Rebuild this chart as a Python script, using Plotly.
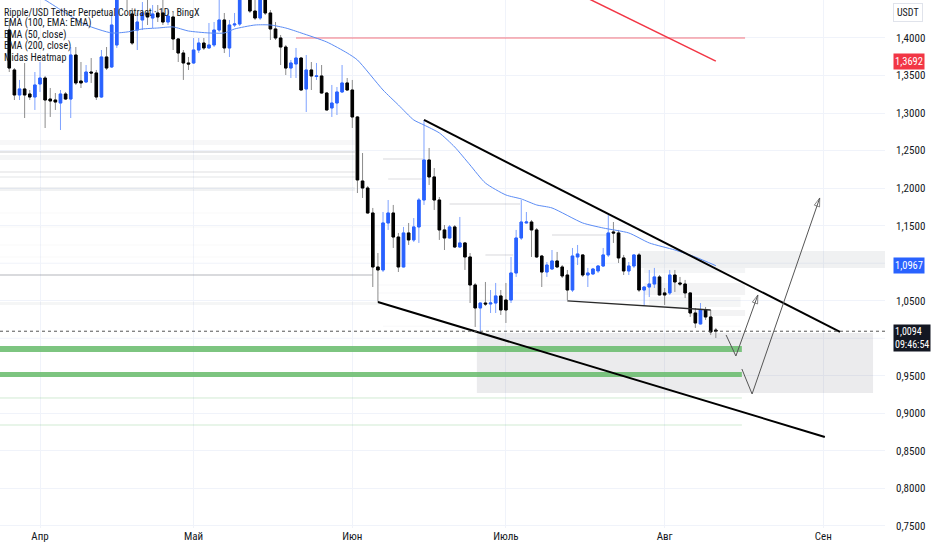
import pandas as pd
import plotly.graph_objects as go

# daily candles, XRP/USDT perp (BingX)
first_day = "2024-03-26"

opens = [1.4106, 1.3574, 1.3241, 1.3321, 1.3254, 1.3214, 1.3387, 1.3467, 1.3187, 1.3174,
         1.3134, 1.3254, 1.3187, 1.3773, 1.3427, 1.3414, 1.3547, 1.3534, 1.3214, 1.3747,
         1.3614, 1.3907, 1.4573, 1.4906, 1.4320, 1.4106, 1.4240, 1.4333, 1.4266, 1.4333,
         1.4333, 1.4213, 1.4280, 1.3987, 1.3800, 1.3667, 1.3667, 1.3840, 1.3933, 1.3867,
         1.3907, 1.4106, 1.4240, 1.3867, 1.4173, 1.4186, 1.4706, 1.4533, 1.4359, 1.4266,
         1.4573, 1.4333, 1.4120, 1.4000, 1.3880, 1.3600, 1.3654, 1.3733, 1.3321, 1.3574,
         1.3487, 1.3494, 1.3267, 1.3068, 1.3134, 1.3281, 1.3401, 1.3307, 1.2948, 1.2095,
         1.2002, 1.1669, 1.0950, 1.0910, 1.1536, 1.1669, 1.1349, 1.0950, 1.1403, 1.1310,
         1.1483, 1.1842, 1.2375, 1.2149, 1.1842, 1.1443, 1.1336, 1.1483, 1.1216, 1.1270,
         1.1083, 1.0710, 1.0404, 1.0470, 1.0457, 1.0470, 1.0564, 1.0510, 1.0510, 1.0870,
         1.1336, 1.1536, 1.1549, 1.1443, 1.1096, 1.0883, 1.0923, 1.1030, 1.0950, 1.0843,
         1.0643, 1.1083, 1.1110, 1.0843, 1.0857, 1.0897, 1.0963, 1.1110, 1.1416, 1.1403,
         1.1070, 1.0897, 1.0963, 1.1110, 1.0643, 1.0683, 1.0723, 1.0817, 1.0604, 1.0604,
         1.0843, 1.0737, 1.0723, 1.0604, 1.0337, 1.0191, 1.0377, 1.0284, 1.0110]
highs = [1.4240, 1.3600, 1.3441, 1.3667, 1.3307, 1.3547, 1.3680, 1.3494, 1.3334, 1.3267,
         1.3307, 1.3281, 1.3880, 1.3880, 1.3680, 1.3640, 1.3733, 1.3574, 1.3840, 1.3880,
         1.4333, 1.4706, 1.5039, 1.4972, 1.4399, 1.4333, 1.4479, 1.4506, 1.4439, 1.4439,
         1.4506, 1.4373, 1.4346, 1.4000, 1.3840, 1.3747, 1.4000, 1.4000, 1.4000, 1.4200,
         1.4213, 1.4506, 1.4333, 1.4240, 1.4333, 1.4772, 1.4839, 1.4639, 1.4506, 1.4706,
         1.4666, 1.4373, 1.4213, 1.4040, 1.3907, 1.3707, 1.3867, 1.3747, 1.3773, 1.3680,
         1.3667, 1.3640, 1.3281, 1.3374, 1.3347, 1.3640, 1.3467, 1.3441, 1.2961, 1.2468,
         1.2029, 1.1736, 1.1136, 1.1682, 1.1842, 1.1776, 1.1403, 1.1483, 1.1536, 1.1602,
         1.1869, 1.2908, 1.2535, 1.2268, 1.1882, 1.1509, 1.1509, 1.1509, 1.1616, 1.1283,
         1.1136, 1.0737, 1.0475, 1.0750, 1.0643, 1.0737, 1.0643, 1.0737, 1.1083, 1.1443,
         1.1842, 1.1682, 1.1576, 1.1469, 1.1110, 1.1016, 1.1176, 1.1150, 1.0976, 1.0910,
         1.1203, 1.1243, 1.1115, 1.0937, 1.0937, 1.0976, 1.1203, 1.1642, 1.1549, 1.1443,
         1.1110, 1.1016, 1.1115, 1.1136, 1.0688, 1.0910, 1.0937, 1.0843, 1.0670, 1.0910,
         1.0910, 1.0817, 1.0777, 1.0610, 1.0404, 1.0470, 1.0417, 1.0377, 1.0138]
lows = [1.3547, 1.3174, 1.3174, 1.2934, 1.3174, 1.3041, 1.3281, 1.2801, 1.2948, 1.3041,
        1.2774, 1.3174, 1.2934, 1.3374, 1.3334, 1.3401, 1.3401, 1.3174, 1.3201, 1.3574,
        1.3600, 1.3867, 1.4533, 1.4373, 1.3907, 1.3840, 1.4106, 1.4173, 1.4133, 1.4213,
        1.4173, 1.4173, 1.3840, 1.3680, 1.3441, 1.3574, 1.3654, 1.3800, 1.3840, 1.3860,
        1.3880, 1.4080, 1.3800, 1.3747, 1.4146, 1.4160, 1.4506, 1.4333, 1.4240, 1.4240,
        1.4306, 1.3973, 1.3973, 1.3640, 1.3507, 1.3467, 1.3467, 1.3300, 1.3014, 1.3307,
        1.3441, 1.3260, 1.3035, 1.2948, 1.2974, 1.3267, 1.3300, 1.2801, 1.1935, 1.1869,
        1.1660, 1.0683, 1.0484, 1.0883, 1.1443, 1.1203, 1.0883, 1.0945, 1.1243, 1.1283,
        1.1270, 1.1776, 1.2042, 1.1709, 1.1310, 1.1176, 1.1330, 1.1203, 1.1203, 1.0910,
        1.0470, 1.0151, 1.0084, 1.0430, 1.0337, 1.0337, 1.0311, 1.0204, 1.0470, 1.0817,
        1.1310, 1.1530, 1.1083, 1.1070, 1.0683, 1.0817, 1.0910, 1.0937, 1.0803, 1.0510,
        1.0617, 1.0976, 1.0817, 1.0683, 1.0843, 1.0870, 1.0950, 1.1083, 1.1270, 1.1003,
        1.0843, 1.0843, 1.0937, 1.0617, 1.0430, 1.0550, 1.0670, 1.0570, 1.0444, 1.0577,
        1.0617, 1.0697, 1.0537, 1.0284, 1.0138, 1.0185, 1.0244, 1.0044, 1.0004]
closes = [1.3600, 1.3241, 1.3321, 1.3241, 1.3214, 1.3374, 1.3467, 1.3174, 1.3161, 1.3147,
          1.3254, 1.3187, 1.3773, 1.3401, 1.3401, 1.3547, 1.3534, 1.3214, 1.3747, 1.3600,
          1.4173, 1.4573, 1.4906, 1.4546, 1.3933, 1.4213, 1.4333, 1.4280, 1.4320, 1.4280,
          1.4213, 1.4293, 1.3987, 1.3800, 1.3667, 1.3654, 1.3840, 1.3933, 1.3867, 1.3907,
          1.4106, 1.4240, 1.3867, 1.4173, 1.4186, 1.4639, 1.4546, 1.4359, 1.4266, 1.4573,
          1.4333, 1.4120, 1.4000, 1.3880, 1.3600, 1.3667, 1.3733, 1.3307, 1.3574, 1.3494,
          1.3494, 1.3267, 1.3041, 1.3134, 1.3281, 1.3401, 1.3307, 1.2948, 1.2109, 1.2002,
          1.1669, 1.0950, 1.0910, 1.1536, 1.1669, 1.1349, 1.0950, 1.1403, 1.1310, 1.1483,
          1.1842, 1.2375, 1.2149, 1.1842, 1.1443, 1.1336, 1.1483, 1.1216, 1.1270, 1.1083,
          1.0710, 1.0404, 1.0470, 1.0457, 1.0470, 1.0564, 1.0377, 1.0377, 1.0870, 1.1336,
          1.1549, 1.1549, 1.1443, 1.1083, 1.0883, 1.0976, 1.1030, 1.0950, 1.0830, 1.0643,
          1.1096, 1.1123, 1.0843, 1.0870, 1.0923, 1.0963, 1.1110, 1.1403, 1.1403, 1.1070,
          1.0897, 1.0963, 1.1110, 1.0643, 1.0683, 1.0723, 1.0817, 1.0577, 1.0577, 1.0843,
          1.0750, 1.0723, 1.0604, 1.0337, 1.0204, 1.0377, 1.0284, 1.0084, 1.0094]

# EMA 50 (blue) and the visible tail of EMA 200 (red)
ema50_dates = ["2024-03-28", "2024-03-30", "2024-04-02", "2024-04-06", "2024-04-10", "2024-04-15",
               "2024-04-18", "2024-04-21", "2024-04-24", "2024-04-27", "2024-04-30", "2024-05-04",
               "2024-05-07", "2024-05-09", "2024-05-13", "2024-05-16", "2024-05-19", "2024-05-22",
               "2024-05-27", "2024-05-31", "2024-06-02", "2024-06-07", "2024-06-10", "2024-06-13",
               "2024-06-15", "2024-06-18", "2024-06-21", "2024-06-24", "2024-06-27", "2024-07-01",
               "2024-07-04", "2024-07-07", "2024-07-10", "2024-07-16", "2024-07-20", "2024-07-25",
               "2024-07-29", "2024-08-03", "2024-08-07", "2024-08-11"]
ema50_vals = [1.4706, 1.4613, 1.4506, 1.4333, 1.4173, 1.4067, 1.4080, 1.4120, 1.4133, 1.4147,
              1.4093, 1.4067, 1.4067, 1.4120, 1.4173, 1.4173, 1.4133, 1.4067, 1.3947, 1.3800,
              1.3707, 1.3307, 1.3108, 1.2908, 1.2841, 1.2735, 1.2548, 1.2308, 1.2068, 1.1909,
              1.1856, 1.1776, 1.1736, 1.1536, 1.1469, 1.1403, 1.1270, 1.1176, 1.1083, 1.0967]
ema200_dates = ["2024-07-13", "2024-07-25", "2024-08-04", "2024-08-11"]
ema200_vals = [1.4662, 1.4260, 1.3928, 1.3692]

last_price = 1.0094
countdown = "09:46:54"

# Midas heatmap levels: price band, time span, relative strength
heat_lo = [1.2995, 1.2575, 1.2468, 1.2375, 1.2202, 1.2135, 1.1962, 1.1663, 1.1477, 1.1237,
           1.1077, 1.0830, 1.0444, 1.2381, 1.2115, 1.1782, 1.1103, 1.1369, 1.0703, 1.0597,
           1.0504, 1.0155, 1.0937, 1.0870, 1.0577, 1.0417, 1.0297]
heat_hi = [1.3007, 1.2641, 1.2495, 1.2442, 1.2229, 1.2162, 1.2016, 1.1675, 1.1489, 1.1249,
           1.1089, 1.0857, 1.0484, 1.2395, 1.2129, 1.1796, 1.1116, 1.1383, 1.0716, 1.0610,
           1.0517, 1.0168, 1.1163, 1.0937, 1.0737, 1.0550, 1.0377]
heat_start = ["2024-03-10"] * 13 + ["2024-06-07", "2024-06-08", "2024-06-20", "2024-06-27",
                                     "2024-07-10", "2024-06-06", "2024-06-06", "2024-06-26",
                                     "2024-06-07", "2024-07-27", "2024-07-28", "2024-07-28",
                                     "2024-07-29", "2024-08-06"]
heat_end = ["2024-06-01 12:00"] * 7 + ["2024-06-06 10:00"] * 4 + ["2024-06-05", "2024-06-06 10:00",
            "2024-06-14 20:00", "2024-06-14 20:00", "2024-07-03 18:00", "2024-07-02 10:00",
            "2024-07-21", "2024-07-11 14:00", "2024-07-11 14:00", "2024-07-31", "2024-08-15 20:00",
            "2024-09-30", "2024-08-16 17:00", "2024-08-16 17:00", "2024-08-15 20:00",
            "2024-08-16 17:00"]
heat_strength = [0.05, 0.06, 0.2, 0.08, 0.12, 0.10, 0.10, 0.05, 0.05, 0.05,
                 0.04, 0.28, 0.07, 0.30, 0.25, 0.30, 0.30, 0.30, 0.06, 0.06,
                 0.06, 0.05, 0.11, 0.08, 0.09, 0.07, 0.09]

# drawings
green_lo = [0.9818, 0.9485]
green_hi = [0.9898, 0.9551]
green_thin = [0.9205, 0.8845]
green_end = "2024-08-16 02:00"
box_x = ["2024-06-25 08:00", "2024-09-10 17:00"]
box_y = [0.9272, 1.0071]
level_140 = 1.40
level_140_x = ["2024-05-21", "2024-08-16 17:00"]

upper_x = ["2024-06-15", "2024-09-04 06:00"]
upper_y = [1.2908, 1.0084]
lower_x = ["2024-06-06", "2024-09-01 07:00"]
lower_y = [1.0484, 0.8686]
mid_x = ["2024-07-13", "2024-08-10"]
mid_y = [1.0497, 1.0377]
arrow1_x = ["2024-08-13", "2024-08-14 22:00", "2024-08-19 05:00"]
arrow1_y = [1.0044, 0.9764, 1.0577]
arrow2_x = ["2024-08-16 02:00", "2024-08-18 02:00", "2024-08-31 07:00"]
arrow2_y = [0.9591, 0.9258, 1.1869]

month_ticks = ["2024-04-01", "2024-05-01", "2024-06-01", "2024-07-01", "2024-08-01", "2024-09-01"]
month_labels = ["Апр", "Май", "Июн", "Июль", "Авг", "Сен"]
# 1,0000 and 1,1000 sit under the price labels, so only their grid lines show
price_ticks = [0.75, 0.80, 0.85, 0.90, 0.95, 1.05, 1.15, 1.20, 1.25, 1.30, 1.35, 1.40]
hidden_ticks = [1.00, 1.10]

legend_lines = ["Ripple/USD Tether Perpetual Contract · 1D · BingX", "EMA (100, EMA: EMA)",
                "EMA (50, close)", "EMA (200, close)", "Midas Heatmap"]

NARROW = "Liberation Sans Narrow, Arial Narrow, Roboto Condensed, Roboto, sans-serif"


def main():
    dates = pd.date_range(first_day, periods=len(opens), freq="D")
    body_hi = [max(o, c) for o, c in zip(opens, closes)]
    body_lo = [min(o, c) for o, c in zip(opens, closes)]

    fig = go.Figure()

    # wicks (lighter colours), then bodies on top
    fig.add_trace(go.Candlestick(
        x=dates, open=opens, high=highs, low=lows, close=closes,
        increasing=dict(line=dict(color="#7ea2ff", width=1), fillcolor="#7ea2ff"),
        decreasing=dict(line=dict(color="#8c8c8c", width=1), fillcolor="#8c8c8c"),
        hoverinfo="skip"))
    fig.add_trace(go.Candlestick(
        x=dates, open=opens, high=body_hi, low=body_lo, close=closes,
        increasing=dict(line=dict(color="#2962ff", width=1), fillcolor="#2962ff"),
        decreasing=dict(line=dict(color="#000000", width=1), fillcolor="#000000")))

    fig.add_trace(go.Scatter(x=ema50_dates, y=ema50_vals, mode="lines",
                             line=dict(color="#5b8cf5", width=1, shape="spline", smoothing=0.6)))
    fig.add_trace(go.Scatter(x=ema200_dates, y=ema200_vals, mode="lines",
                             line=dict(color="#f23645", width=1.5)))

    # trend lines
    for xs, ys, w, col in [(upper_x, upper_y, 2, "#000000"), (lower_x, lower_y, 2, "#000000"),
                           (mid_x, mid_y, 1.3, "#2a2a2a")]:
        fig.add_trace(go.Scatter(x=xs, y=ys, mode="lines", line=dict(color=col, width=w)))

    # projection arrows
    for xs, ys in [(arrow1_x, arrow1_y), (arrow2_x, arrow2_y)]:
        fig.add_trace(go.Scatter(
            x=xs, y=ys, mode="lines+markers", line=dict(color="#555555", width=1),
            marker=dict(symbol="arrow-open", size=[0, 0, 9], angleref="previous",
                        color="#555555", line=dict(color="#555555", width=1))))

    shapes = []
    for g in hidden_ticks:
        shapes.append(dict(type="line", xref="paper", yref="y", x0=0, x1=1, y0=g, y1=g,
                           line=dict(color="#f0f3fa", width=1), layer="below"))
    for lo, hi, x0, x1, s in zip(heat_lo, heat_hi, heat_start, heat_end, heat_strength):
        shapes.append(dict(type="rect", xref="x", yref="y", x0=x0, x1=x1, y0=lo, y1=hi,
                           fillcolor=f"rgba(120,123,134,{s})", line=dict(width=0), layer="between"))
    shapes.append(dict(type="rect", xref="x", yref="y", x0=box_x[0], x1=box_x[1],
                       y0=box_y[0], y1=box_y[1], fillcolor="rgba(120,123,134,0.15)",
                       line=dict(width=0), layer="between"))
    for lo, hi in zip(green_lo, green_hi):
        shapes.append(dict(type="rect", xref="x", yref="y", x0="2024-03-10", x1=green_end,
                           y0=lo, y1=hi, fillcolor="rgba(102,187,106,0.85)",
                           line=dict(width=0), layer="between"))
    for g in green_thin:
        shapes.append(dict(type="line", xref="x", yref="y", x0="2024-03-10", x1=green_end,
                           y0=g, y1=g, line=dict(color="rgba(102,187,106,0.3)", width=1),
                           layer="between"))
    shapes.append(dict(type="line", xref="x", yref="y", x0=level_140_x[0], x1=level_140_x[1],
                       y0=level_140, y1=level_140, line=dict(color="rgba(242,54,69,0.35)", width=2),
                       layer="between"))
    shapes.append(dict(type="line", xref="paper", yref="y", x0=0, x1=1,
                       y0=last_price, y1=last_price,
                       line=dict(color="#555555", width=1, dash="dot"), layer="above"))

    ann = []
    for i, t in enumerate(legend_lines):
        ann.append(dict(xref="paper", yref="paper", x=0, y=1, xanchor="left", yanchor="middle",
                        xshift=3, yshift=-12 - 11.4 * i, text=t, showarrow=False,
                        borderpad=0, font=dict(family=NARROW, size=10, color="#131722")))
    ann.append(dict(xref="paper", yref="paper", x=1, y=1, xanchor="left", yanchor="top",
                    xshift=8, yshift=-3, text="USDT", showarrow=False,
                    bordercolor="#e0e3eb", borderwidth=1, borderpad=3,
                    font=dict(family=NARROW, size=10, color="#131722")))
    for val, bg in [(ema200_vals[-1], "#f23645"), (ema50_vals[-1], "#2962ff")]:
        ann.append(dict(xref="paper", yref="y", x=1, y=val, xanchor="left", yanchor="middle",
                        xshift=8, text=f"{val:.4f}".replace(".", ","), showarrow=False,
                        bgcolor=bg, borderpad=1, font=dict(family=NARROW, size=10.5, color="white")))
    ann.append(dict(xref="paper", yref="y", x=1, y=last_price, xanchor="left", yanchor="middle",
                    xshift=8, yshift=-7, showarrow=False, align="left",
                    text=f"{last_price:.4f}".replace(".", ",") + "<br>" + countdown,
                    bgcolor="#131722", borderpad=1, font=dict(family=NARROW, size=10, color="white")))

    fig.update_layout(
        width=932, height=550,
        margin=dict(l=0, r=47, t=0, b=22),
        paper_bgcolor="white", plot_bgcolor="white",
        showlegend=False, separators=", ",
        font=dict(family=NARROW, size=11, color="#131722"),
        shapes=shapes, annotations=ann,
        xaxis=dict(type="date", range=["2024-03-24 04:30", "2024-09-13 01:00"],
                   tickvals=month_ticks, ticktext=month_labels, showgrid=True,
                   gridcolor="#f0f3fa", zeroline=False, showline=False, ticks="",
                   rangeslider=dict(visible=False), tickfont=dict(size=11)),
        yaxis=dict(side="right", range=[0.7473, 1.4506], tickvals=price_ticks,
                   tickformat=".4f", showgrid=True, gridcolor="#f0f3fa", zeroline=False,
                   showline=False, ticks="", ticklabelstandoff=10, tickfont=dict(size=11)),
    )

    # the page body has a default 8px margin; drop it so the figure sits at 0,0
    fig.write_html("out.html", config={"displayModeBar": False},
                   post_script="document.body.style.margin='0px';")


if __name__ == "__main__":
    main()
